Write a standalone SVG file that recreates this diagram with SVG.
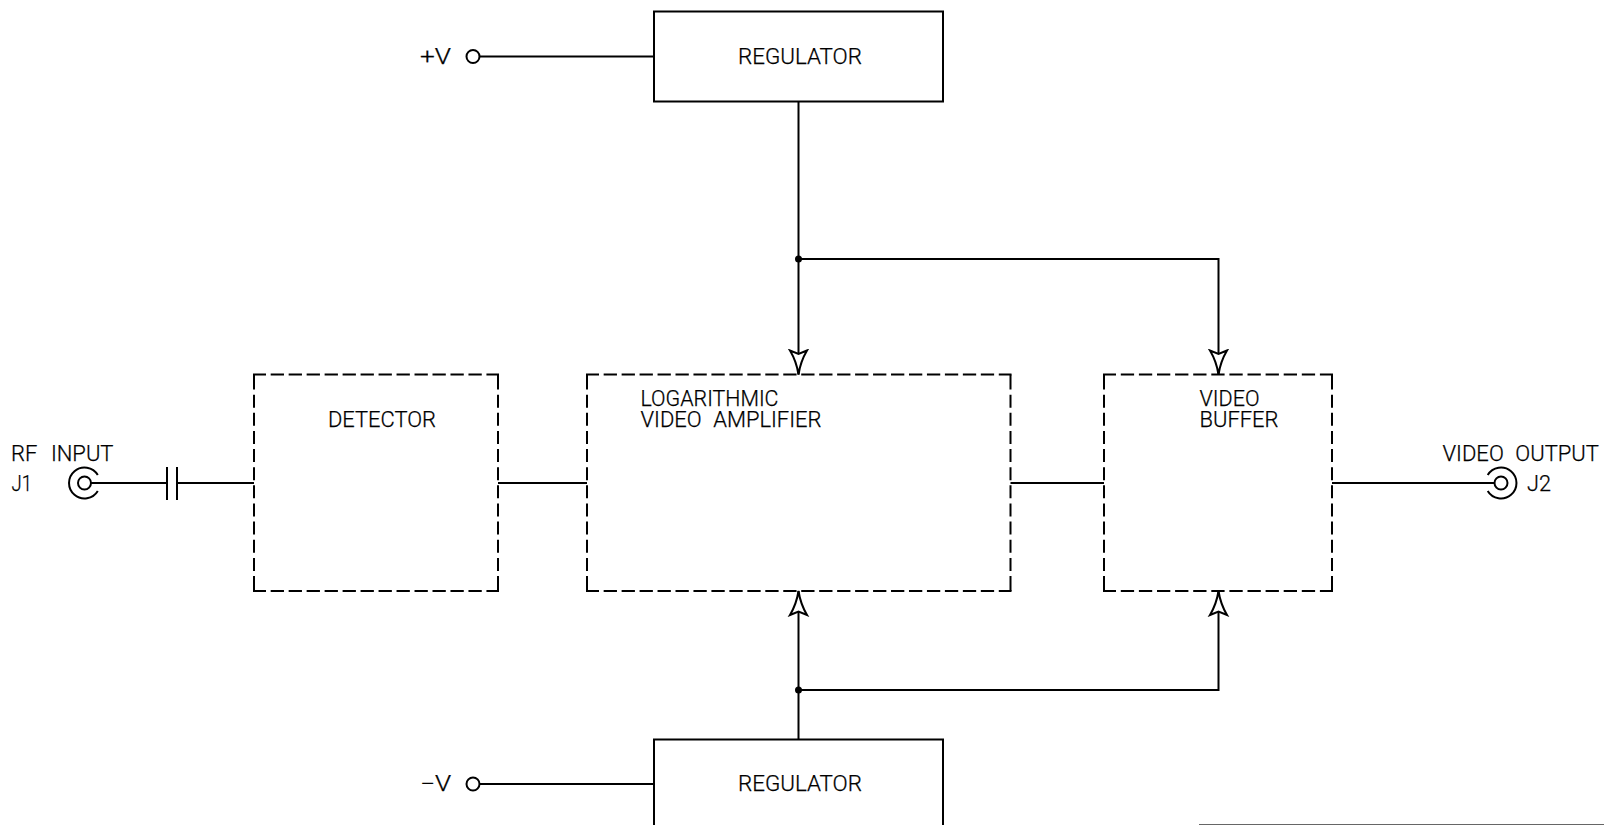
<svg xmlns="http://www.w3.org/2000/svg" width="1604" height="825" viewBox="0 0 1604 825">
<style>
text{font-family:Roboto,"Liberation Sans",Arial,sans-serif;font-size:21.5px;font-weight:300;fill:#000;stroke:#000;stroke-width:.25;word-spacing:6px}
.b{fill:#fff;stroke:#000;stroke-width:2}
.l{fill:none;stroke:#000;stroke-width:2}
.d{fill:none;stroke:#000;stroke-width:2;stroke-dashoffset:.3}
.v{fill:none;stroke:#000;stroke-width:2;stroke-dasharray:13 5.14}
</style>
<defs>
<marker id="arr" markerUnits="userSpaceOnUse" markerWidth="30" markerHeight="24" refX="26" refY="12" orient="auto" viewBox="0 0 30 24">
<path d="M2 3.5 L5.5 12 L2 20.5 Q13 14 26 12 Q13 10 2 3.5 Z" fill="#fff" stroke="#000" stroke-width="2"/>
</marker>
</defs>
<rect width="1604" height="825" fill="#fff"/>
<g id="connectors">
<path class="l" d="M480 56.5H654M480 784H654M90 483H167M177 483H254M498 483H587M1010.5 483H1104M1332 483H1494"/>
<path class="l" d="M167 467V500M177 467V500"/>
<path class="l" d="M798.5 101.5V374.5" marker-end="url(#arr)"/>
<path class="l" d="M798.5 259H1218.5V374.5" marker-end="url(#arr)"/>
<path class="l" d="M798.5 739.5V591" marker-end="url(#arr)"/>
<path class="l" d="M798.5 690H1218.5V591" marker-end="url(#arr)"/>
<circle cx="798.5" cy="259" r="3.5"/>
<circle cx="798.5" cy="690" r="3.5"/>
</g>
<g id="reg-top"><rect class="b" x="654" y="11.5" width="289" height="90"/><text x="738" y="63.5" textLength="124" lengthAdjust="spacingAndGlyphs">REGULATOR</text></g>
<g id="reg-bottom"><rect class="b" x="654" y="739.5" width="289" height="100"/><text x="738" y="791" textLength="124" lengthAdjust="spacingAndGlyphs">REGULATOR</text></g>
<g id="detector">
<path class="d" stroke-dasharray="13.3 4.68" d="M253 374.5H499M253 591H499"/>
<path class="v" d="M254 374.5V376.5M254 376.5V589M254 589V591M498 374.5V376.5M498 376.5V589M498 589V591"/>
<text x="328" y="427" textLength="108" lengthAdjust="spacingAndGlyphs">DETECTOR</text>
</g>
<g id="log-amp">
<path class="d" stroke-dasharray="13.3 4.66" d="M586 374.5H1011.5M586 591H1011.5"/>
<path class="v" d="M587 374.5V376.5M587 376.5V589M587 589V591M1010.5 374.5V376.5M1010.5 376.5V589M1010.5 589V591"/>
<text><tspan x="640.5" y="406" textLength="138" lengthAdjust="spacingAndGlyphs">LOGARITHMIC</tspan><tspan x="640.5" y="427" textLength="181" lengthAdjust="spacingAndGlyphs">VIDEO AMPLIFIER</tspan></text>
</g>
<g id="buffer">
<path class="d" stroke-dasharray="13.3 4.8" d="M1103 374.5H1333M1103 591H1333"/>
<path class="v" d="M1104 374.5V376.5M1104 376.5V589M1104 589V591M1332 374.5V376.5M1332 376.5V589M1332 589V591"/>
<text><tspan x="1199.5" y="406" textLength="60" lengthAdjust="spacingAndGlyphs">VIDEO</tspan><tspan x="1199.5" y="427" textLength="79" lengthAdjust="spacingAndGlyphs">BUFFER</tspan></text>
</g>
<g id="pos-v"><circle class="b" cx="473" cy="56.5" r="6.5"/><text x="420" y="63.5" textLength="31" lengthAdjust="spacingAndGlyphs">+V</text></g>
<g id="neg-v"><circle class="b" cx="473" cy="784" r="6.5"/><text x="420" y="791" textLength="31" lengthAdjust="spacingAndGlyphs">−V</text></g>
<g id="j1">
<circle class="b" cx="84.5" cy="483" r="6.5"/>
<path class="l" d="M97.8 475A15.5 15.5 0 1 0 97.8 491"/>
<text x="11" y="460.5" textLength="102.5" lengthAdjust="spacingAndGlyphs" style="word-spacing:8px">RF INPUT</text>
<text x="11.5" y="491" textLength="20.5" lengthAdjust="spacingAndGlyphs">J1</text>
</g>
<g id="j2">
<circle class="b" cx="1501" cy="483" r="6.5"/>
<path class="l" d="M1487.7 475A15.5 15.5 0 1 1 1487.7 491"/>
<text x="1442.5" y="460.5" textLength="156.5" lengthAdjust="spacingAndGlyphs">VIDEO OUTPUT</text>
<text x="1527" y="491" textLength="24" lengthAdjust="spacingAndGlyphs">J2</text>
</g>
<path d="M1199 824.5H1604" stroke="#666" stroke-width="1.2"/>
</svg>
